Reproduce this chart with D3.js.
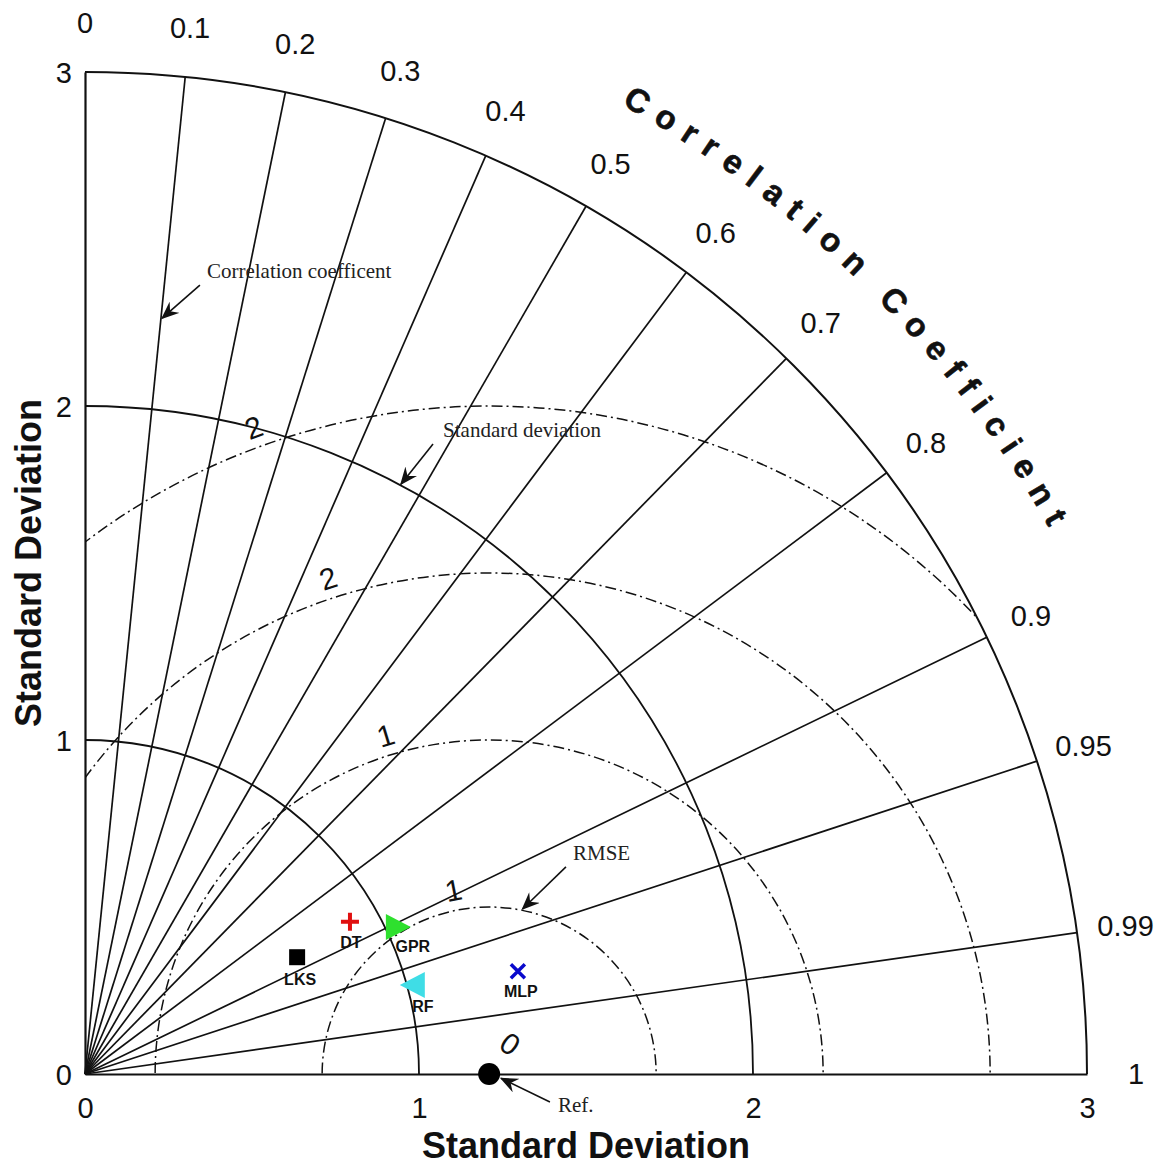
<!DOCTYPE html>
<html>
<head>
<meta charset="utf-8">
<script src="https://cdn.jsdelivr.net/npm/d3@7"></script>
<style>
  body { margin: 0; background: #fff; }
  svg { display: block; }
</style>
</head>
<body>
<svg id="chart" width="1169" height="1173"></svg>
<script>
// ---- Taylor diagram data ----
const models    = ["LKS", "DT", "GPR", "RF", "MLP"];
const modelStd  = [0.725, 0.915, 1.035, 1.017, 1.332];
const modelCorr = [0.876, 0.867, 0.905, 0.965, 0.973];
const refStd = 1.21;

const stdTicks = [0, 1, 2, 3];
const stdArcs = [1, 2, 3];
const corrTicks = [0, 0.1, 0.2, 0.3, 0.4, 0.5, 0.6, 0.7, 0.8, 0.9, 0.95, 0.99, 1];
const corrTickLabels = ["0", "0.1", "0.2", "0.3", "0.4", "0.5", "0.6", "0.7", "0.8", "0.9", "0.95", "0.99", "1"];
const rmseLevels = [0.5, 1, 1.5, 2];
const rmseLabelLevels = [0, 0.5, 1, 1.5, 2];
const rmseLabelText = ["0", "1", "1", "2", "2"];

// ---- layout ----
const svg = d3.select("#chart");
const maxStd = 3;
const x = d3.scaleLinear().domain([0, maxStd]).range([85, 1087]);
const y = d3.scaleLinear().domain([0, maxStd]).range([1074, 72]);
const rpx = v => x(v) - x(0);
const ox = x(0), oy = y(0);

const SANS = "'Liberation Sans', Arial, Helvetica, sans-serif";
const SERIF = "'Liberation Serif', 'Times New Roman', serif";
const INK = "#111";

// polar (std, corr) -> data xy
const polar = (s, c) => [s * c, s * Math.sqrt(Math.max(0, 1 - c * c))];

// clip region: the quarter disc of radius maxStd
const clipPath = d3.path();
clipPath.moveTo(ox, oy);
clipPath.lineTo(ox, oy - rpx(maxStd));
clipPath.arc(ox, oy, rpx(maxStd), -Math.PI / 2, 0);
clipPath.closePath();
const defs = svg.append("defs");
defs.append("clipPath").attr("id", "quarter").append("path").attr("d", clipPath.toString());

defs.append("marker")
  .attr("id", "arrow")
  .attr("viewBox", "0 0 12 10")
  .attr("refX", 11).attr("refY", 5)
  .attr("markerWidth", 18).attr("markerHeight", 15)
  .attr("markerUnits", "userSpaceOnUse")
  .attr("orient", "auto")
  .append("path")
  .attr("d", "M0,0 L12,5 L0,10 L4,5 Z")
  .attr("fill", INK);

// ---- RMSE circles (dash-dot), centred on the reference ----
const gRmse = svg.append("g").attr("clip-path", "url(#quarter)");
gRmse.selectAll("circle")
  .data(rmseLevels)
  .join("circle")
  .attr("cx", x(refStd)).attr("cy", oy)
  .attr("r", d => rpx(d))
  .attr("fill", "none")
  .attr("stroke", INK)
  .attr("stroke-width", 1.5)
  .attr("stroke-dasharray", "11,4,2,4");

// ---- correlation rays ----
svg.append("g").selectAll("line")
  .data(corrTicks.filter(c => c > 0 && c < 1))
  .join("line")
  .attr("x1", ox).attr("y1", oy)
  .attr("x2", c => x(polar(maxStd, c)[0]))
  .attr("y2", c => y(polar(maxStd, c)[1]))
  .attr("stroke", INK)
  .attr("stroke-width", 1.7);

// ---- standard deviation arcs ----
svg.append("g").selectAll("path")
  .data(stdArcs)
  .join("path")
  .attr("d", s => {
    const p = d3.path();
    p.moveTo(ox, oy - rpx(s));
    p.arc(ox, oy, rpx(s), -Math.PI / 2, 0);
    return p.toString();
  })
  .attr("fill", "none")
  .attr("stroke", INK)
  .attr("stroke-width", s => s === maxStd ? 2 : 1.8);

// ---- axes ----
const xAxis = svg.append("g")
  .attr("transform", `translate(0,${oy})`)
  .call(d3.axisBottom(x).tickValues(stdTicks).tickFormat(d3.format("d")).tickSize(0).tickPadding(23));
const yAxis = svg.append("g")
  .attr("transform", `translate(${ox},0)`)
  .call(d3.axisLeft(y).tickValues(stdTicks).tickFormat(d3.format("d")).tickSize(0).tickPadding(13));
[xAxis, yAxis].forEach(g => {
  g.select(".domain").attr("stroke", INK).attr("stroke-width", 2.2);
  g.selectAll("text").attr("font-family", SANS).attr("font-size", 29).attr("fill", INK);
});
yAxis.selectAll("text").attr("dy", "0.36em");

// ---- correlation tick labels ----
svg.append("g").selectAll("text")
  .data(corrTicks)
  .join("text")
  .attr("x", (c) => x(polar(3.147, c)[0]))
  .attr("y", (c) => y(polar(3.147, c)[1]))
  .attr("text-anchor", "middle")
  .attr("dominant-baseline", "central")
  .attr("font-family", SANS)
  .attr("font-size", 29)
  .attr("fill", INK)
  .text((c, i) => corrTickLabels[i]);

// ---- RMSE contour labels ----
const rmseLabelAngle = [55, 101, 107, 108, 110];
svg.append("g").selectAll("text")
  .data(rmseLabelLevels)
  .join("text")
  .attr("transform", (r, i) => {
    const a = rmseLabelAngle[i] * Math.PI / 180;
    const d = r === 0 ? 0.11 : r + 0.06;
    const px = x(refStd + d * Math.cos(a));
    const py = y(d * Math.sin(a));
    return `translate(${px},${py}) rotate(${90 - rmseLabelAngle[i]})`;
  })
  .attr("text-anchor", "middle")
  .attr("dominant-baseline", "central")
  .attr("font-family", SANS)
  .attr("font-size", 30)
  .attr("fill", INK)
  .text((r, i) => rmseLabelText[i]);

// ---- curved "Correlation Coefficient" title ----
const titleR = 1108;
const a0 = 63.5 * Math.PI / 180, a1 = 26.5 * Math.PI / 180;
defs.append("path")
  .attr("id", "corrTitlePath")
  .attr("d", `M${ox + titleR * Math.cos(a0)},${oy - titleR * Math.sin(a0)} A${titleR},${titleR} 0 0 1 ${ox + titleR * Math.cos(a1)},${oy - titleR * Math.sin(a1)}`);
svg.append("text")
  .attr("font-family", SANS)
  .attr("font-weight", "bold")
  .attr("font-size", 33)
  .attr("letter-spacing", 11.5)
  .attr("fill", INK)
  .attr("stroke", INK)
  .attr("stroke-width", 0.6)
  .append("textPath")
  .attr("href", "#corrTitlePath")
  .attr("startOffset", "50%")
  .attr("text-anchor", "middle")
  .text("Correlation Coefficient");

// ---- axis titles ----
svg.append("text")
  .attr("x", (x(0) + x(maxStd)) / 2).attr("y", 1158)
  .attr("text-anchor", "middle")
  .attr("font-family", SANS).attr("font-weight", "bold").attr("font-size", 36)
  .attr("fill", INK)
  .text("Standard Deviation");
svg.append("text")
  .attr("transform", `translate(41,563) rotate(-90)`)
  .attr("text-anchor", "middle")
  .attr("font-family", SANS).attr("font-weight", "bold").attr("font-size", 36)
  .attr("fill", INK)
  .text("Standard Deviation");

// ---- annotations with arrows (positions in data units) ----
const notes = [
  { text: "Correlation coefficent", tx: 0.365, ty: 2.383, from: [0.344, 2.362], to: [0.231, 2.263] },
  { text: "Standard deviation",     tx: 1.072, ty: 1.907, from: [1.042, 1.886], to: [0.946, 1.766] },
  { text: "RMSE",                   tx: 1.461, ty: 0.641, from: [1.440, 0.620], to: [1.310, 0.494] },
  { text: "Ref.",                   tx: 1.416, ty: -0.114, from: [1.392, -0.084], to: [1.246, -0.013] }
];
const gNotes = svg.append("g");
gNotes.selectAll("line")
  .data(notes)
  .join("line")
  .attr("x1", d => x(d.from[0])).attr("y1", d => y(d.from[1]))
  .attr("x2", d => x(d.to[0])).attr("y2", d => y(d.to[1]))
  .attr("stroke", INK).attr("stroke-width", 1.6)
  .attr("marker-end", "url(#arrow)");
gNotes.selectAll("text")
  .data(notes)
  .join("text")
  .attr("x", d => x(d.tx)).attr("y", d => y(d.ty))
  .attr("font-family", SERIF).attr("font-size", 21)
  .attr("fill", "#222")
  .text(d => d.text);

// ---- reference point ----
svg.append("circle")
  .attr("cx", x(refStd)).attr("cy", oy).attr("r", 11)
  .attr("fill", "#000");

// ---- model markers ----
const markerStyle = {
  LKS: { color: "#000000", shape: "square",   ldx: 3,  ldy: 28 },
  DT:  { color: "#e01010", shape: "plus",     ldx: 1,  ldy: 26 },
  GPR: { color: "#2ee02e", shape: "triRight", ldx: 15, ldy: 25 },
  RF:  { color: "#3fdde6", shape: "triLeft",  ldx: 10, ldy: 27 },
  MLP: { color: "#0a0acc", shape: "times",    ldx: 3,  ldy: 26 }
};
const shapePath = {
  square:   "M-8,-8H8V8H-8Z",
  plus:     "M-9,0H9M0,-9V9",
  triRight: "M-12,-13L13,0L-12,13Z",
  triLeft:  "M12,-13L-13,0L12,13Z",
  times:    "M-7,-7L7,7M7,-7L-7,7"
};
const pts = models.map((m, i) => {
  const [dx, dy] = polar(modelStd[i], modelCorr[i]);
  return { name: m, px: x(dx), py: y(dy), ...markerStyle[m] };
});
const gMarks = svg.append("g");
gMarks.selectAll("path")
  .data(pts)
  .join("path")
  .attr("transform", d => `translate(${d.px},${d.py})`)
  .attr("d", d => shapePath[d.shape])
  .attr("fill", d => (d.shape === "plus" || d.shape === "times") ? "none" : d.color)
  .attr("stroke", d => (d.shape === "plus" || d.shape === "times") ? d.color : "none")
  .attr("stroke-width", d => d.shape === "plus" ? 4 : 3.5);
gMarks.selectAll("text")
  .data(pts)
  .join("text")
  .attr("x", d => d.px + d.ldx)
  .attr("y", d => d.py + d.ldy)
  .attr("text-anchor", "middle")
  .attr("font-family", SANS).attr("font-weight", "bold").attr("font-size", 16)
  .attr("fill", "#111")
  .text(d => d.name);
</script>
</body>
</html>
